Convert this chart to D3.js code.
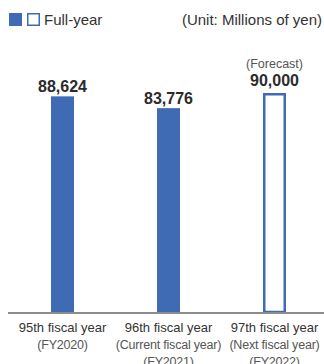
<!DOCTYPE html>
<html>
<head>
<meta charset="utf-8">
<script src="https://cdn.jsdelivr.net/npm/d3@7/dist/d3.min.js"></script>
<style>
  html, body { margin: 0; padding: 0; background: #fff; }
  svg { display: block; font-family: "Liberation Sans", Arial, sans-serif; }
</style>
</head>
<body>
<svg id="chart" width="324" height="364"></svg>
<script>
// Chart data
const categories = ['FY2020', 'FY2021', 'FY2022'];
const values = [88624, 83776, 90000];
const isForecast = [false, false, true];
const labelLines = [
  ['95th fiscal year', '(FY2020)'],
  ['96th fiscal year', '(Current fiscal year)', '(FY2021)'],
  ['97th fiscal year', '(Next fiscal year)', '(FY2022)']
];

const width = 324;
const height = 364;
const blue = '#3e6bb4';
const baseY = 312;
const barWidth = 23;

const svg = d3.select('#chart');

// Scales
const x = d3.scalePoint()
  .domain(categories)
  .range([9.5, 327.5])
  .padding(0.5);

const y = d3.scaleLinear()
  .domain([0, 90000])
  .range([baseY, 93]);

// Legend
svg.append('rect')
  .attr('x', 9).attr('y', 13)
  .attr('width', 13).attr('height', 13)
  .attr('fill', blue);
svg.append('rect')
  .attr('x', 27.75).attr('y', 13.75)
  .attr('width', 11.5).attr('height', 11.5)
  .attr('fill', '#fff')
  .attr('stroke', blue)
  .attr('stroke-width', 1.5);
svg.append('text')
  .attr('x', 44).attr('y', 25)
  .style('font-size', '15px')
  .attr('fill', '#333')
  .text('Full-year');
svg.append('text')
  .attr('x', 322).attr('y', 25)
  .attr('text-anchor', 'end')
  .style('font-size', '15px')
  .attr('fill', '#333')
  .text('(Unit: Millions of yen)');

// Bars
const data = categories.map((c, i) => ({ cat: c, value: values[i], forecast: isForecast[i], lines: labelLines[i] }));

svg.append('g')
  .selectAll('rect')
  .data(data)
  .enter().append('rect')
  .attr('x', d => x(d.cat) - barWidth / 2 + (d.forecast ? 1.25 : 0))
  .attr('y', d => y(d.value) + (d.forecast ? 1.25 : 0))
  .attr('width', d => d.forecast ? barWidth - 2.5 : barWidth)
  .attr('height', d => baseY - y(d.value) - (d.forecast ? 1.25 : 0))
  .attr('fill', d => d.forecast ? '#fff' : blue)
  .attr('stroke', d => d.forecast ? blue : 'none')
  .attr('stroke-width', 2.5);

// Value labels
svg.append('g')
  .selectAll('text')
  .data(data)
  .enter().append('text')
  .attr('x', d => x(d.cat))
  .attr('y', d => y(d.value) - (d.forecast ? 7 : 4.5))
  .attr('text-anchor', 'middle')
  .style('font-size', '16px')
  .style('font-weight', 'bold')
  .attr('fill', '#2b2b2b')
  .text(d => d3.format(',')(d.value));

// Forecast note
data.filter(d => d.forecast).forEach(d => {
  svg.append('text')
    .attr('x', x(d.cat))
    .attr('y', y(d.value) - 25)
    .attr('text-anchor', 'middle')
    .style('font-size', '12.5px')
    .attr('fill', '#555')
    .text('(Forecast)');
});

// Baseline
svg.append('line')
  .attr('x1', 8).attr('x2', width)
  .attr('y1', baseY + 1).attr('y2', baseY + 1)
  .attr('stroke', '#8c8c8c')
  .attr('stroke-width', 2);

// Category labels
const catLabels = svg.append('g')
  .selectAll('text')
  .data(data)
  .enter().append('text')
  .attr('text-anchor', 'middle')
  .style('font-size', '13px');

catLabels.selectAll('tspan')
  .data(d => d.lines.map((t, i) => ({ t, i, cx: x(d.cat) })))
  .enter().append('tspan')
  .attr('x', d => d.cx)
  .attr('y', d => 332 + d.i * 17)
  .attr('fill', d => d.i === 0 ? '#333' : '#555')
  .style('font-size', d => d.i === 0 ? '13px' : '12.5px')
  .style('letter-spacing', d => d.i === 0 ? '0px' : '-0.2px')
  .text(d => d.t);
</script>
</body>
</html>
